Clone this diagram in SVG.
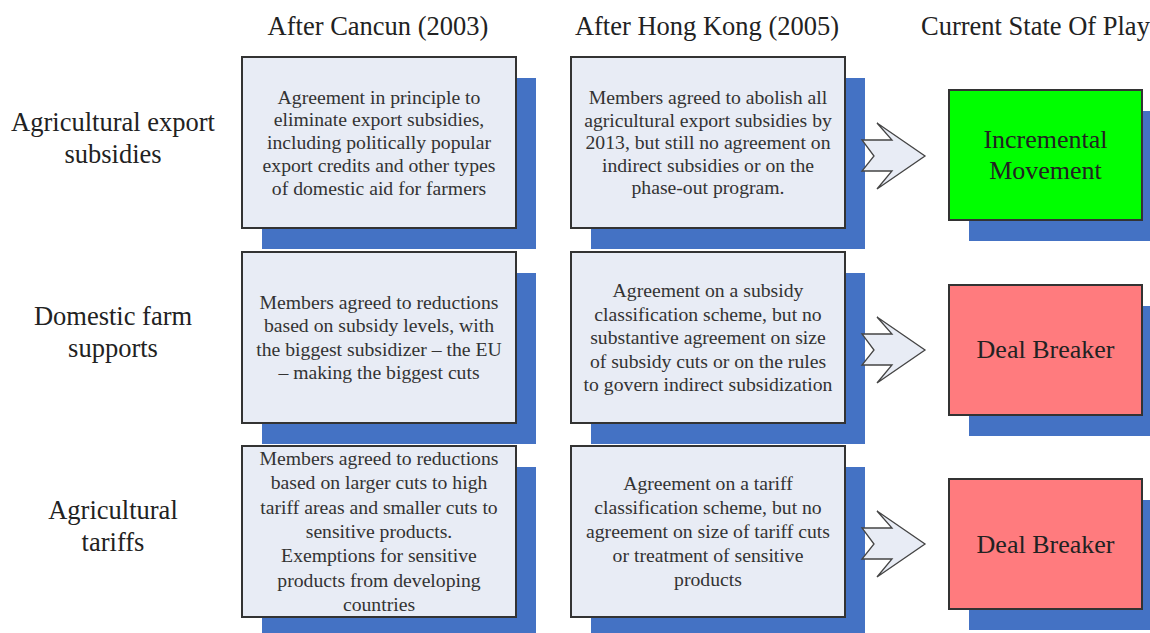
<svg xmlns="http://www.w3.org/2000/svg" width="1150" height="633" viewBox="0 0 1150 633">
<style>
.shadow{fill:#4472c4;}
.box{fill:#e8ecf5;stroke:#333;stroke-width:2;}
.green{fill:#00ff00;stroke:#333;stroke-width:2;}
.red{fill:#ff7b7e;stroke:#333;stroke-width:2;}
.bt{font-family:"Liberation Serif","Times New Roman",serif;font-size:19.7px;fill:#333;text-anchor:middle;}
.hd{font-family:"Liberation Serif","Times New Roman",serif;font-size:26.5px;fill:#222;}
.lb{font-family:"Liberation Serif","Times New Roman",serif;font-size:26.5px;fill:#222;text-anchor:middle;}
.st{font-family:"Liberation Serif","Times New Roman",serif;font-size:26px;fill:#222;text-anchor:middle;}
.arrow{fill:#e8ecf5;stroke:#444;stroke-width:1.3;stroke-linejoin:miter;}
</style>
<rect width="1150" height="633" fill="#fff"/>
<g id="headers">
<text class="hd" x="378" y="35" text-anchor="middle">After Cancun (2003)</text>
<text class="hd" x="707" y="35" text-anchor="middle">After Hong Kong (2005)</text>
<text class="hd" x="921" y="35">Current State Of Play</text>
</g>
<g id="row-labels">
<text class="lb" x="113" y="131">Agricultural export</text>
<text class="lb" x="113" y="163">subsidies</text>
<text class="lb" x="113" y="325">Domestic farm</text>
<text class="lb" x="113" y="357">supports</text>
<text class="lb" x="113" y="519">Agricultural</text>
<text class="lb" x="113" y="551">tariffs</text>
</g>
<g id="shadows">
<rect class="shadow" x="262" y="78" width="274" height="171"/>
<rect class="shadow" x="591" y="78" width="274" height="171"/>
<rect class="shadow" x="969" y="111" width="193" height="130"/>
<rect class="shadow" x="262" y="273" width="274" height="171"/>
<rect class="shadow" x="591" y="273" width="274" height="171"/>
<rect class="shadow" x="969" y="306" width="193" height="130"/>
<rect class="shadow" x="262" y="467" width="274" height="171"/>
<rect class="shadow" x="591" y="467" width="274" height="171"/>
<rect class="shadow" x="969" y="500" width="193" height="130"/>
</g>
<g id="r1c1">
<rect class="box" x="242" y="57" width="274" height="171"/>
<text class="bt" x="379" y="103.7"><tspan x="379">Agreement in principle to</tspan><tspan x="379" dy="22.7">eliminate export subsidies,</tspan><tspan x="379" dy="22.7">including politically popular</tspan><tspan x="379" dy="22.7">export credits and other types</tspan><tspan x="379" dy="22.7">of domestic aid for farmers</tspan></text>
</g>
<g id="r1c2">
<rect class="box" x="571" y="57" width="274" height="171"/>
<text class="bt" x="708" y="104"><tspan x="708">Members agreed to abolish all</tspan><tspan x="708" dy="22.5">agricultural export subsidies by</tspan><tspan x="708" dy="22.5">2013, but still no agreement on</tspan><tspan x="708" dy="22.5">indirect subsidies or on the</tspan><tspan x="708" dy="22.5">phase-out program.</tspan></text>
</g>
<g id="r1c3">
<rect class="green" x="949" y="90" width="193" height="130"/>
<text class="st" x="1045.5" y="148"><tspan x="1045.5">Incremental</tspan><tspan x="1045.5" dy="31">Movement</tspan></text>
</g>
<g id="r2c1">
<rect class="box" x="242" y="252" width="274" height="171"/>
<text class="bt" x="379" y="308.5"><tspan x="379">Members agreed to reductions</tspan><tspan x="379" dy="23.5">based on subsidy levels, with</tspan><tspan x="379" dy="23.5">the biggest subsidizer – the EU</tspan><tspan x="379" dy="23.5">– making the biggest cuts</tspan></text>
</g>
<g id="r2c2">
<rect class="box" x="571" y="252" width="274" height="171"/>
<text class="bt" x="708" y="297"><tspan x="708">Agreement on a subsidy</tspan><tspan x="708" dy="23.5">classification scheme, but no</tspan><tspan x="708" dy="23.5">substantive agreement on size</tspan><tspan x="708" dy="23.5">of subsidy cuts or on the rules</tspan><tspan x="708" dy="23.5">to govern indirect subsidization</tspan></text>
</g>
<g id="r2c3">
<rect class="red" x="949" y="285" width="193" height="130"/>
<text class="st" x="1045.5" y="358">Deal Breaker</text>
</g>
<g id="r3c1">
<rect class="box" x="242" y="446" width="274" height="171"/>
<text class="bt" x="379" y="465"><tspan x="379">Members agreed to reductions</tspan><tspan x="379" dy="24.3">based on larger cuts to high</tspan><tspan x="379" dy="24.3">tariff areas and smaller cuts to</tspan><tspan x="379" dy="24.3">sensitive products.</tspan><tspan x="379" dy="24.3">Exemptions for sensitive</tspan><tspan x="379" dy="24.3">products from developing</tspan><tspan x="379" dy="24.3">countries</tspan></text>
</g>
<g id="r3c2">
<rect class="box" x="571" y="446" width="274" height="171"/>
<text class="bt" x="708" y="490"><tspan x="708">Agreement on a tariff</tspan><tspan x="708" dy="24">classification scheme, but no</tspan><tspan x="708" dy="24">agreement on size of tariff cuts</tspan><tspan x="708" dy="24">or treatment of sensitive</tspan><tspan x="708" dy="24">products</tspan></text>
</g>
<g id="r3c3">
<rect class="red" x="949" y="479" width="193" height="130"/>
<text class="st" x="1045.5" y="552.5">Deal Breaker</text>
</g>
<g id="connectors">
<polygon class="arrow" points="862,140 892,140 877,123 925,156 877,189 892,171 862,171 874,156"/>
<polygon class="arrow" points="862,334 892,334 877,317 925,350 877,383 892,365 862,365 874,350"/>
<polygon class="arrow" points="862,528 892,528 877,511 925,544 877,577 892,559 862,559 874,544"/>
</g>
</svg>
